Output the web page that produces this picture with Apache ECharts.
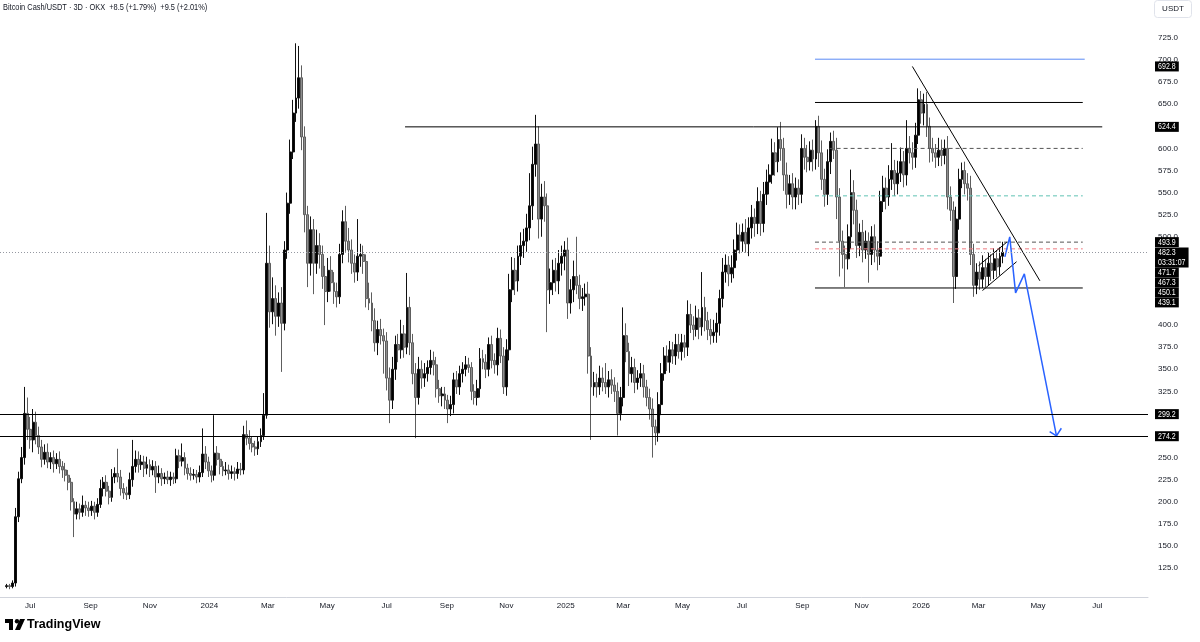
<!DOCTYPE html>
<html>
<head>
<meta charset="utf-8">
<title>BCH/USDT 3D</title>
<script src="https://cdn.jsdelivr.net/npm/echarts@6/dist/echarts.min.js"></script>
<style>
  html, body { margin: 0; padding: 0; background: #fff; }
  #chart { width: 1200px; height: 642px; }
</style>
</head>
<body>
<div id="chart"></div>
<script>
// 3D candles, first one opens 2023-06-07, each next one 3 days later
const firstCandle = '2023-06-07'
const firstOpen = 104

// closes, open of a candle = close of the previous one
const closes = [
  105, 104, 108, 183, 226, 250, 300, 282, 270, 290,
  275, 262, 248, 256, 245, 250, 243, 248, 240, 236,
  230, 222, 200, 186, 192, 188, 196, 193, 190, 195,
  188, 197, 215, 222, 212, 205, 228, 232, 228, 215,
  210, 208, 225, 240, 248, 242, 245, 238, 242, 236,
  240, 228, 232, 226, 228, 225, 228, 226, 252, 246,
  250, 238, 232, 230, 231, 228, 233, 254, 245, 235,
  230, 255, 248, 240, 235, 236, 232, 234, 232, 237,
  236, 276, 272, 266, 262, 260, 268, 275, 298, 470,
  415, 430, 410, 425, 402, 485, 538, 596, 640, 657,
  680, 613, 525, 470, 508, 470, 490, 480, 455, 438,
  462, 448, 438, 432, 480, 517, 495, 485, 470, 460,
  478, 480, 472, 430, 425, 405, 380, 395, 388, 382,
  340, 315, 350, 378, 372, 390, 375, 420, 380, 345,
  318, 350, 340, 345, 352, 360, 355, 328, 320, 322,
  315, 305, 310, 338, 330, 345, 350, 355, 352, 325,
  318, 328, 362, 358, 350, 378, 360, 355, 385, 365,
  330, 372, 440, 462, 450, 478, 490, 495, 510, 535,
  582, 605, 520, 545, 535, 440, 448, 462, 450, 470,
  478, 485, 425, 440, 455, 445, 430, 432, 435, 365,
  330, 335, 330, 340, 335, 330, 338, 332, 325, 300,
  318, 388, 370, 345, 352, 335, 340, 345, 330, 318,
  305, 285, 278, 310, 345, 365, 358, 372, 365, 378,
  370, 380, 375, 412, 400, 395, 408, 398, 420, 405,
  395, 388, 392, 402, 430, 460, 468, 458, 465, 485,
  502, 495, 505, 492, 510, 522, 515, 540, 515, 548,
  562, 570, 595, 585, 610, 600, 570, 548, 560, 545,
  555, 548, 600, 590, 585, 598, 588, 625, 595, 565,
  548, 585, 608, 598, 545, 495, 480, 475, 500, 550,
  530, 490, 505, 485, 495, 480, 500, 485, 478, 540,
  555, 545, 565, 575, 560, 572, 585, 570, 600, 595,
  590, 615, 655, 640, 650, 625, 600, 595, 590, 598,
  592, 600, 545, 530, 455, 520, 565, 575, 560, 555,
  480, 445, 460, 452, 465, 455, 470, 462, 475, 466,
  478, 482.3
]

// wick lengths above / below the body
const upWick = [
  2, 2, 3, 10, 8, 12, 30, 18, 14, 15,
  12, 10, 8, 9, 10, 6, 8, 7, 9, 6,
  8, 6, 5, 4, 8, 6, 11, 5, 7, 6,
  5, 7, 10, 6, 8, 6, 9, 7, 28, 8,
  6, 7, 8, 30, 10, 9, 8, 7, 9, 6,
  7, 6, 9, 6, 5, 7, 6, 5, 8, 7,
  16, 6, 5, 7, 6, 5, 8, 29, 9, 6,
  6, 43, 8, 7, 6, 9, 6, 7, 5, 8,
  7, 10, 16, 9, 8, 7, 6, 8, 25, 57,
  20, 24, 15, 12, 18, 10, 12, 14, 15, 62,
  36, 14, 12, 10, 15, 12, 18, 14, 10, 12,
  14, 16, 12, 10, 12, 13, 18, 15, 12, 10,
  42, 12, 10, 8, 18, 12, 14, 10, 12, 8,
  10, 12, 14, 10, 12, 16, 10, 39, 12, 10,
  12, 14, 10, 12, 8, 12, 10, 9, 10, 8,
  8, 6, 10, 8, 10, 9, 8, 10, 8, 6,
  8, 10, 12, 10, 9, 8, 10, 8, 12, 10,
  10, 12, 18, 15, 14, 12, 15, 14, 16, 37,
  20, 33, 20, 15, 18, 14, 16, 12, 14, 15,
  12, 10, 14, 12, 18, 45, 12, 10, 12, 14,
  10, 12, 10, 14, 12, 22, 10, 12, 9, 10,
  12, 32, 14, 10, 12, 10, 9, 12, 10, 8,
  10, 12, 8, 14, 12, 10, 12, 10, 9, 12,
  12, 10, 9, 16, 12, 10, 14, 10, 40, 12,
  10, 12, 14, 12, 10, 16, 12, 10, 14, 12,
  14, 12, 10, 15, 12, 14, 10, 16, 12, 14,
  14, 12, 16, 12, 14, 20, 12, 14, 10, 12,
  12, 10, 16, 12, 14, 10, 12, 7, 12, 14,
  12, 14, 10, 12, 14, 10, 12, 10, 14, 26,
  14, 12, 10, 14, 12, 10, 12, 14, 10, 12,
  14, 12, 16, 31, 12, 14, 16, 12, 32, 14,
  12, 14, 13, 10, 12, 14, 10, 12, 10, 14,
  12, 10, 14, 12, 10, 14, 12, 9, 10, 12,
  14, 12, 10, 12, 14, 10, 12, 10, 12, 10,
  10, 12
]
const downWick = [
  2, 3, 2, 4, 6, 5, 8, 12, 10, 14,
  10, 8, 9, 6, 7, 8, 10, 6, 8, 9,
  7, 9, 10, 26, 6, 8, 5, 9, 7, 6,
  8, 5, 4, 9, 6, 8, 5, 7, 6, 8,
  7, 6, 5, 8, 7, 9, 6, 10, 7, 8,
  6, 18, 7, 8, 6, 5, 7, 6, 5, 8,
  6, 8, 7, 6, 5, 7, 6, 5, 8, 7,
  8, 6, 7, 9, 6, 5, 7, 6, 8, 6,
  6, 5, 8, 7, 6, 8, 7, 6, 5, 4,
  18, 14, 22, 12, 55, 8, 10, 12, 8, 10,
  12, 15, 20, 27, 14, 35, 12, 16, 14, 38,
  12, 10, 14, 12, 8, 10, 12, 14, 12, 12,
  10, 12, 14, 10, 8, 12, 10, 14, 10, 37,
  14, 26, 10, 12, 14, 10, 12, 8, 14, 12,
  46, 8, 12, 10, 9, 8, 12, 10, 8, 12,
  10, 16, 8, 10, 8, 9, 10, 8, 6, 10,
  8, 9, 10, 8, 10, 8, 9, 10, 12, 8,
  8, 10, 12, 14, 16, 12, 10, 14, 12, 14,
  16, 14, 22, 20, 18, 48, 16, 14, 12, 15,
  14, 16, 18, 12, 14, 10, 12, 14, 10, 20,
  60, 10, 12, 9, 10, 8, 12, 10, 12, 25,
  8, 10, 12, 14, 10, 12, 8, 10, 12, 10,
  12, 35, 14, 10, 12, 8, 10, 12, 9, 10,
  8, 10, 12, 10, 9, 12, 8, 14, 10, 12,
  12, 10, 8, 12, 14, 10, 12, 14, 10, 12,
  12, 14, 12, 10, 14, 12, 15, 12, 14, 10,
  12, 14, 10, 16, 12, 14, 18, 16, 12, 14,
  14, 12, 10, 14, 12, 10, 14, 12, 16, 12,
  14, 12, 14, 10, 25, 40, 16, 32, 12, 14,
  16, 14, 12, 14, 10, 32, 12, 14, 16, 10,
  12, 14, 10, 12, 14, 12, 10, 14, 12, 12,
  14, 12, 10, 12, 14, 12, 16, 10, 12, 10,
  12, 10, 14, 12, 30, 14, 12, 10, 12, 14,
  12, 13, 10, 12, 10, 12, 10, 12, 10, 12,
  10, 8
]

// axes
const timeMin = '2023-05-31'
const timeMax = '2026-08-22'
const monthTicks = [
  '2023-07-01', '2023-09-01', '2023-11-01', '2024-01-01', '2024-03-01', '2024-05-01',
  '2024-07-01', '2024-09-01', '2024-11-01', '2025-01-01', '2025-03-01', '2025-05-01',
  '2025-07-01', '2025-09-01', '2025-11-01', '2026-01-01', '2026-03-01', '2026-05-01', '2026-07-01'
]
const monthLabels = [
  'Jul', 'Sep', 'Nov', '2024', 'Mar', 'May', 'Jul', 'Sep', 'Nov', '2025',
  'Mar', 'May', 'Jul', 'Sep', 'Nov', '2026', 'Mar', 'May', 'Jul'
]
const priceMin = 75
const priceMax = 775
const priceStep = 25

// drawings
const lastPrice = 482.3
const fullLevels = [299.2, 274.2]
const blueTarget = [['2025-09-14', 701], ['2026-06-18', 701]]
const upperBox = [['2025-09-14', 652], ['2026-06-16', 652]]
const resistance = [['2024-07-20', 624.4], ['2026-07-06', 624.4]]
const dash600 = [['2025-09-29', 600], ['2026-06-16', 600]]
const dash546 = [['2025-09-14', 546.3], ['2026-06-16', 546.3]]
const dash494 = [['2025-09-14', 493.9], ['2026-06-16', 493.9]]
const dash486 = [['2025-09-14', 486.3], ['2026-06-16', 486.3]]
const lowerBox = [['2025-09-14', 442], ['2026-06-16', 442]]
const trendLine = [['2025-12-23', 692.8], ['2026-05-03', 450.1]]
const wedgeTop = [['2026-03-01', 467.3], ['2026-03-30', 493.9]]
const wedgeBottom = [['2026-03-05', 439.1], ['2026-04-09', 471.7]]
const projection = [['2026-03-28', 477.2], ['2026-04-02', 499.9], ['2026-04-08', 436.4],
  ['2026-04-17', 458], ['2026-05-20', 274.5]]
const arrowHead = [['2026-05-13', 279.4], ['2026-05-20', 274.5], ['2026-05-25', 283.2]]
const priceTags = [692.8, 624.4, 493.9, 471.7, 467.3, 450.1, 439.1, 299.2, 274.2]
const countdown = '03:31:07'

const FONT = "'Liberation Sans', Arial, sans-serif"
const TEXT = '#131722'
const DAY = 86400000

const toTime = s => new Date(s + 'T00:00:00').getTime()
const pad = n => (n < 10 ? '0' : '') + n
const dayKey = d => d.getFullYear() + '-' + pad(d.getMonth() + 1) + '-' + pad(d.getDate())

const t0 = toTime(firstCandle)
const candles = closes.map((c, i) => {
  const o = i === 0 ? firstOpen : closes[i - 1]
  return [t0 + i * 3 * DAY, o, c, Math.min(o, c) - downWick[i], Math.max(o, c) + upWick[i]]
})

// one category per calendar day, only used to place the month labels
const days = []
for (let d = new Date(timeMin + 'T00:00:00'); dayKey(d) <= timeMax; d.setDate(d.getDate() + 1)) {
  days.push(dayKey(d))
}

const pts = arr => arr.map(p => [toTime(p[0]), p[1]])

function drawing(arr, color, width, type) {
  return {
    type: 'line',
    data: pts(arr),
    symbol: 'none',
    silent: true,
    z: 3,
    lineStyle: { color: color, width: width, type: type || 'solid' }
  }
}

// price px per unit: 125 sits at y=568, 725 at y=38
const pxPerUnit = (568 - 38) / 600
const gridTop = 568 - (priceMax - 125) * pxPerUnit
const gridBottom = 642 - (568 + (125 - priceMin) * pxPerUnit)

const chart = echarts.init(document.getElementById('chart'))

const option = {
  animation: false,
  backgroundColor: '#fff',
  grid: [
    { left: 0, right: 52, top: gridTop, bottom: gridBottom, outerBoundsMode: 'none' },
    { left: 0, right: 52, top: 0, bottom: 45, outerBoundsMode: 'none' }
  ],
  xAxis: [
    {
      type: 'time',
      gridIndex: 0,
      min: toTime(timeMin),
      max: toTime(timeMax),
      axisLine: { show: false },
      axisTick: { show: false },
      axisLabel: { show: false },
      splitLine: { show: false }
    },
    {
      type: 'category',
      gridIndex: 1,
      data: days,
      boundaryGap: false,
      axisLine: { show: true, lineStyle: { color: '#d1d4dc', width: 1 } },
      axisTick: { show: false },
      splitLine: { show: false },
      axisLabel: {
        interval: (idx, val) => monthTicks.indexOf(val) >= 0,
        formatter: val => monthLabels[monthTicks.indexOf(val)] || '',
        color: TEXT,
        fontFamily: FONT,
        fontSize: 8,
        margin: 5
      }
    }
  ],
  yAxis: [
    {
      type: 'value',
      gridIndex: 0,
      position: 'right',
      min: priceMin,
      max: priceMax,
      interval: priceStep,
      axisLine: { show: false },
      axisTick: { show: false },
      splitLine: { show: false },
      axisLabel: {
        formatter: v => (v < 110 ? '' : v.toFixed(1)),
        color: TEXT,
        fontFamily: FONT,
        fontSize: 8,
        margin: 10,
        align: 'left'
      }
    },
    {
      type: 'value',
      gridIndex: 1,
      show: false
    }
  ],
  series: [
    {
      type: 'candlestick',
      xAxisIndex: 0,
      yAxisIndex: 0,
      data: candles,
      barWidth: 2.4,
      z: 2,
      itemStyle: {
        color: '#000',
        borderColor: '#111',
        color0: '#8e8e8e',
        borderColor0: '#5e5e5e',
        borderWidth: 1
      },
      markLine: {
        silent: true,
        symbol: 'none',
        label: { show: false },
        data: [
          { yAxis: fullLevels[0], lineStyle: { color: '#000', width: 1, type: 'solid' } },
          { yAxis: fullLevels[1], lineStyle: { color: '#000', width: 1, type: 'solid' } },
          { yAxis: lastPrice, lineStyle: { color: '#9598a1', width: 1, type: [1, 2] } }
        ]
      }
    },
    drawing(blueTarget, '#5b8af5', 1),
    drawing(upperBox, '#000', 1),
    drawing(resistance, '#000', 1),
    drawing(dash600, '#555', 1, [4, 3]),
    drawing(dash546, '#5fc2b3', 1, [4, 3]),
    drawing(dash494, '#555', 1, [4, 3]),
    drawing(dash486, '#f07a80', 1, [4, 3]),
    drawing(lowerBox, '#000', 1),
    drawing(trendLine, '#000', 1),
    drawing(wedgeTop, '#000', 1),
    drawing(wedgeBottom, '#000', 1),
    drawing(projection, '#2962ff', 1.5),
    drawing(arrowHead, '#2962ff', 1.5)
  ]
}

chart.setOption(option)

// static decorations
const graphics = [
  {
    type: 'text', x: 3, y: 2, z: 20, scaleX: 0.78,
    style: {
      text: 'Bitcoin Cash/USDT · 3D · OKX  +8.5 (+1.79%)  +9.5 (+2.01%)',
      fill: TEXT, font: '9.5px ' + FONT
    }
  },
  {
    type: 'rect', z: 20,
    shape: { x: 1154.5, y: 0.5, width: 37, height: 17, r: 3 },
    style: { fill: '#fff', stroke: '#e0e3eb' }
  },
  {
    type: 'text', x: 1173, y: 9, z: 21,
    style: { text: 'USDT', fill: TEXT, font: '8px ' + FONT, align: 'center', verticalAlign: 'middle' }
  },
  {
    type: 'group', x: 5, y: 619, z: 20,
    children: [
      { type: 'rect', shape: { x: 0, y: 0, width: 8, height: 4 }, style: { fill: '#000' } },
      { type: 'rect', shape: { x: 4, y: 0, width: 4, height: 11 }, style: { fill: '#000' } },
      { type: 'circle', shape: { cx: 12, cy: 2.2, r: 2.2 }, style: { fill: '#000' } },
      { type: 'polygon', shape: { points: [[15, 0], [20, 0], [15, 11], [10, 11]] }, style: { fill: '#000' } }
    ]
  },
  {
    type: 'text', x: 27, y: 625, z: 20,
    style: { text: 'TradingView', fill: '#000', font: 'bold 12.5px ' + FONT, verticalAlign: 'middle' }
  }
]

// price scale tags, stacked so they do not overlap
const tagItems = priceTags.map(p => ({ price: p, text: p.toFixed(1), h: 10 }))
tagItems.push({ price: lastPrice, text: lastPrice.toFixed(1) + '\n' + countdown, h: 20 })
tagItems.sort((a, b) => b.price - a.price)
let prevBottom = -Infinity
tagItems.forEach(t => {
  const y = chart.convertToPixel({ yAxisIndex: 0 }, t.price)
  const top = Math.max(y - 5, prevBottom)
  prevBottom = top + t.h
  graphics.push({
    type: 'text', x: 1155, y: top, z: 30, scaleX: 0.78,
    style: {
      text: t.text,
      fill: '#fff',
      backgroundColor: '#000',
      padding: [0, 4, 0, 4],
      font: '9px ' + FONT,
      lineHeight: 10
    }
  })
})

chart.setOption({ graphic: graphics })
</script>
</body>
</html>
